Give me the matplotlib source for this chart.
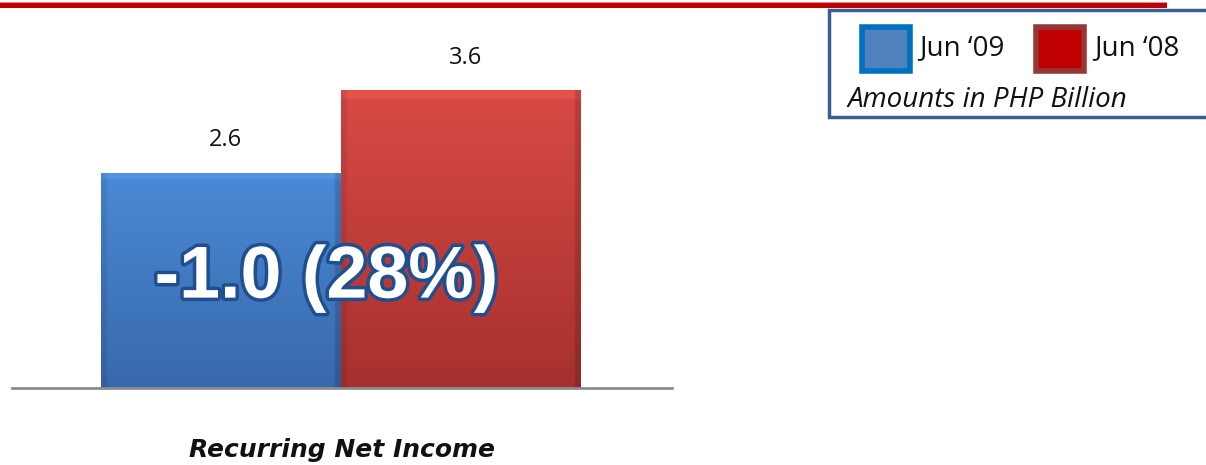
import numpy as np
import matplotlib
matplotlib.use("Agg")
import matplotlib.pyplot as plt
from matplotlib.patches import Rectangle
import matplotlib.patheffects as pe

# Data
periods = ["Jun \u201809", "Jun \u201808"]
values = [2.6, 3.6]
value_labels = ["2.6", "3.6"]
category = "Recurring Net Income"
change_label = "-1.0 (28%)"
unit_note = "Amounts in PHP Billion"

W, H = 1206, 465
fig = plt.figure(figsize=(W / 100, H / 100), dpi=100)

def fx(px):
    return px / W

def fy(py):
    return 1 - py / H

# Main axes: baseline at y=388 px, spanning x 12..672 px
ax_left, ax_right, ax_bottom = 12, 672, 388
ymax = 4.5
px_per_unit = 82.6
ax_top = ax_bottom - ymax * px_per_unit
ax = fig.add_axes([fx(ax_left), fy(ax_bottom), fx(ax_right - ax_left), (ax_bottom - ax_top) / H])
x = np.arange(len(values))
bars = ax.bar(x, values, width=1.0, color="none", edgecolor="none", zorder=2)

top_bot = [((0.29, 0.54, 0.84), (0.22, 0.41, 0.67)),
           ((0.85, 0.29, 0.27), (0.65, 0.19, 0.18))]

for bar, (ctop, cbot) in zip(bars, top_bot):
    x0, w, h = bar.get_x(), bar.get_width(), bar.get_height()
    ny, nx = 200, 120
    t = np.linspace(0, 1, ny)[:, None]
    ctop_a, cbot_a = np.array(ctop), np.array(cbot)
    img = ctop_a[None, None, :] * (1 - t[..., None]) + cbot_a[None, None, :] * t[..., None]
    img = np.repeat(img, nx, axis=1)
    # bevel: slightly lighter top band, darker side edges
    top_band = int(ny * 0.03)
    img[:top_band] = np.clip(img[:top_band] * 1.05 + 0.015, 0, 1)
    edge = max(1, int(nx * 0.025))
    img[:, :edge] *= 0.92
    img[:, -edge:] *= 0.85
    ax.imshow(img, extent=[x0, x0 + w, 0, h], origin="upper", aspect="auto",
              zorder=2, clip_path=bar, clip_on=True, interpolation="bilinear")

for xi, v, lab in zip(x, values, value_labels):
    ax.text(xi + 0.02, v + 0.4, lab, ha="center", va="center", fontsize=17,
            family="Open Sans", color="#111111")

ax.set_xlim((ax_left - 221) / 240, (ax_right - 221) / 240)
ax.set_ylim(0, ymax)
for s in ["left", "right", "top"]:
    ax.spines[s].set_visible(False)
ax.spines["bottom"].set_color("#8c8c8c")
ax.spines["bottom"].set_linewidth(2)
ax.set_xticks([])
ax.set_yticks([])
ax.patch.set_alpha(0)

# Change annotation across both bars
ax.text(0.44, 1.33, change_label, ha="center", va="center", fontsize=53,
        family="Liberation Sans", weight="bold", color="white", zorder=5,
        path_effects=[pe.withStroke(linewidth=5, foreground="#1f4f8f")])

fig.text(fx(342), fy(450), category, ha="center", va="center", fontsize=18,
         family="Liberation Sans Narrow", weight="bold", style="italic", color="#111111")

# Top rule
fig.add_artist(Rectangle((0, fy(8.5)), fx(1167), 5.5 / H, transform=fig.transFigure,
                         facecolor="#c00000", edgecolor="none"))
fig.add_artist(Rectangle((0, fy(3)), fx(1167), 1.2 / H, transform=fig.transFigure,
                         facecolor="#e89090", edgecolor="none"))

# Legend box
fig.add_artist(Rectangle((fx(829), fy(117)), fx(400), 107 / H, transform=fig.transFigure,
                         facecolor="white", edgecolor="#3b5f8c", linewidth=2.5))
legend_items = [(862, "#4f81bd", "#0070c0", periods[0], 919),
                (1036, "#c00000", "#953735", periods[1], 1094)]
for sx, fc, ec, lab, tx in legend_items:
    fig.add_artist(Rectangle((fx(sx), fy(71)), fx(48), 44 / H, transform=fig.transFigure,
                             facecolor=fc, edgecolor=ec, linewidth=4))
    fig.text(fx(tx), fy(48), lab, ha="left", va="center", fontsize=20,
             family="Open Sans", color="#111111")
fig.text(fx(848), fy(100), unit_note, ha="left", va="center", fontsize=20,
         family="Open Sans", style="italic", color="#111111")

fig.savefig("out.png", dpi=100)
